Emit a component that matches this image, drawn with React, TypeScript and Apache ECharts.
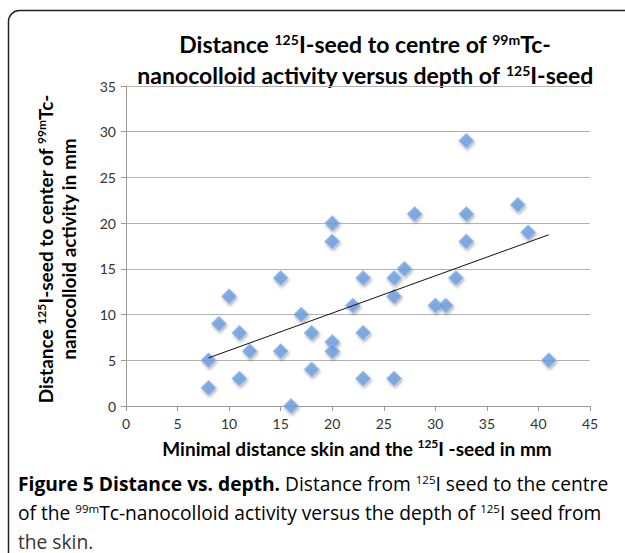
import React, { useEffect, useRef } from 'react';
import * as echarts from 'echarts';

// Minimal distance skin – 125I seed (mm)
const depthMm = [8, 8, 9, 10, 11, 11, 12, 15, 15, 16, 17, 18, 18, 20, 20, 20, 20, 22, 23, 23, 23, 26, 26, 26, 27, 28, 30, 31, 32, 33, 33, 33, 38, 39, 41];
// Distance 125I seed to centre of 99mTc-nanocolloid activity (mm)
const distanceMm = [5, 2, 9, 12, 8, 3, 6, 14, 6, 0, 10, 8, 4, 20, 18, 7, 6, 11, 14, 8, 3, 14, 12, 3, 15, 21, 11, 11, 14, 29, 21, 18, 22, 19, 5];

const xAxisMin = 0;
const xAxisMax = 45;
const yAxisMin = 0;
const yAxisMax = 35;
const tickStep = 5;

const CHART_FONT = 'Lato';
const CAPTION_FONT = 'Open Sans';

function linearFit(xs: number[], ys: number[]) {
  const n = xs.length;
  let sx = 0, sy = 0, sxy = 0, sxx = 0;
  for (let i = 0; i < n; i++) {
    sx += xs[i]; sy += ys[i]; sxy += xs[i] * ys[i]; sxx += xs[i] * xs[i];
  }
  const slope = (n * sxy - sx * sy) / (n * sxx - sx * sx);
  const intercept = (sy - slope * sx) / n;
  return { slope, intercept };
}

export default function App() {
  const ref = useRef<HTMLDivElement>(null);

  useEffect(() => {
    document.body.style.margin = '0';
    if (!ref.current) return;
    const chart = echarts.init(ref.current, null, { renderer: 'svg' });

    const points = depthMm.map((x, i) => [x, distanceMm[i]]);
    const { slope, intercept } = linearFit(depthMm, distanceMm);
    const xMinData = Math.min(...depthMm);
    const xMaxData = Math.max(...depthMm);
    const trend = [
      [xMinData, slope * xMinData + intercept],
      [xMaxData, slope * xMaxData + intercept],
    ];

    const supStyle = (size: number, pad: number, bold: boolean, color: string, font: string) => ({
      fontSize: size,
      lineHeight: size,
      fontWeight: bold ? 'bold' : 'normal',
      fontFamily: font,
      color,
      verticalAlign: 'top',
      padding: [pad, 0, 0, 0],
    });

    const titleRich = {
      m: { fontSize: 23, fontWeight: 'bold', fontFamily: CHART_FONT, color: '#111', lineHeight: 31 },
      s: supStyle(14, 4, true, '#111', CHART_FONT),
    };
    const axisTitleRich = {
      m: { fontSize: 19, fontWeight: 'bold', fontFamily: CHART_FONT, color: '#111', lineHeight: 23 },
      s: supStyle(12, 1, true, '#111', CHART_FONT),
    };
    const capRich = {
      b: { fontSize: 19.2, fontWeight: 'bold', fontFamily: CAPTION_FONT, color: '#111', lineHeight: 29 },
      m: { fontSize: 19.2, fontFamily: CAPTION_FONT, color: '#333', lineHeight: 29 },
      s: supStyle(11.5, 4, false, '#333', CAPTION_FONT),
    };

    chart.setOption({
      animation: false,
      backgroundColor: '#fff',
      grid: { left: 126, right: 35, top: 86, bottom: 147, containLabel: false },
      xAxis: {
        type: 'value',
        min: xAxisMin,
        max: xAxisMax,
        interval: tickStep,
        splitLine: { show: false },
        axisLine: { show: true, lineStyle: { color: '#9a9a9a', width: 1 } },
        axisTick: { show: true, length: 5, lineStyle: { color: '#9a9a9a' } },
        axisLabel: { fontFamily: CHART_FONT, fontSize: 14, color: '#333', margin: 10 },
      },
      yAxis: {
        type: 'value',
        min: yAxisMin,
        max: yAxisMax,
        interval: tickStep,
        splitLine: { show: true, lineStyle: { color: '#b4b4b4', width: 1 } },
        axisLine: { show: true, lineStyle: { color: '#9a9a9a', width: 1 } },
        axisTick: { show: true, length: 5, lineStyle: { color: '#9a9a9a' } },
        axisLabel: { fontFamily: CHART_FONT, fontSize: 14, color: '#333', margin: 10 },
      },
      series: [
        {
          type: 'scatter',
          data: points,
          symbol: 'diamond',
          symbolSize: 15,
          itemStyle: {
            color: '#6a9ee0',
            borderColor: '#9fc0ec',
            borderWidth: 1,
            shadowBlur: 3,
            shadowColor: 'rgba(0,0,0,0.35)',
            shadowOffsetX: 1,
            shadowOffsetY: 2,
          },
          z: 3,
        },
        {
          type: 'line',
          data: trend,
          symbol: 'none',
          lineStyle: { color: '#111', width: 1 },
          z: 4,
          silent: true,
        },
      ],
      graphic: [
        {
          type: 'rect',
          shape: { x: 8.5, y: 10.5, width: 700, height: 600, r: 11 },
          style: { fill: 'none', stroke: '#222', lineWidth: 1.5 },
          z: 10,
        },
        {
          type: 'text',
          x: 365,
          y: 28,
          style: {
            text: '{m|Distance }{s|125}{m|I-seed to centre of }{s|99m}{m|Tc-}\n{m|nanocolloid activity versus depth of }{s|125}{m|I-seed}',
            rich: titleRich,
            align: 'center',
            verticalAlign: 'top',
          },
        },
        {
          type: 'text',
          x: 57,
          y: 249,
          rotation: Math.PI / 2,
          style: {
            text: '{m|Distance }{s|125}{m|I-seed to center of }{s|99m}{m|Tc-}\n{m|nanocolloid activity in mm}',
            rich: axisTitleRich,
            align: 'center',
            verticalAlign: 'middle',
          },
        },
        {
          type: 'text',
          x: 357,
          y: 448,
          style: {
            text: '{m|Minimal distance skin and the }{s|125}{m|I -seed in mm}',
            rich: axisTitleRich,
            align: 'center',
            verticalAlign: 'middle',
          },
        },
        {
          type: 'text',
          x: 18,
          y: 469,
          style: {
            text:
              '{b|Figure 5 Distance vs. depth.}{m| Distance from }{s|125}{m|I seed to the centre}\n' +
              '{m|of the }{s|99m}{m|Tc-nanocolloid activity versus the depth of }{s|125}{m|I seed from}',
            rich: capRich,
            align: 'left',
            verticalAlign: 'top',
          },
        },
        {
          type: 'text',
          x: 18,
          y: 541,
          style: {
            text: 'the skin.',
            fontSize: 19.2,
            fontFamily: CAPTION_FONT,
            fill: '#333',
            align: 'left',
            verticalAlign: 'middle',
          },
        },
      ],
    });

    return () => chart.dispose();
  }, []);

  return <div ref={ref} style={{ width: 625, height: 553 }} />;
}
